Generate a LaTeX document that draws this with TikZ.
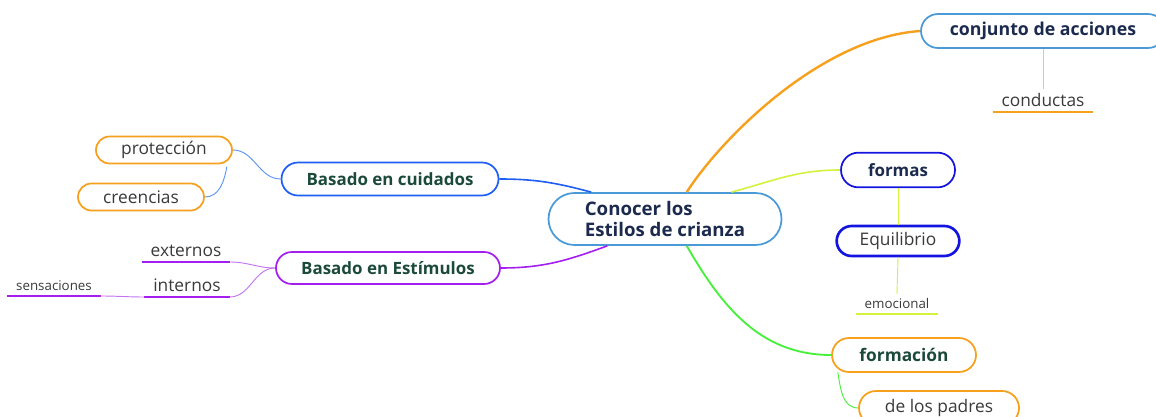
\documentclass[tikz,border=0pt]{standalone}
\usepackage{fontspec}
\setmainfont{Open Sans}
\usetikzlibrary{shapes.misc}

\definecolor{skyline}{HTML}{4A9AD8}
\definecolor{deepblue}{HTML}{1414E0}
\definecolor{careblue}{HTML}{1E5EF5}
\definecolor{careline}{HTML}{5A96F2}
\definecolor{stimpurple}{HTML}{A41EF0}
\definecolor{stimline}{HTML}{C274F2}
\definecolor{mmorange}{HTML}{F7A01E}
\definecolor{lineorange}{HTML}{F9C27A}
\definecolor{lime}{HTML}{D2F23C}
\definecolor{mmgreen}{HTML}{48F03C}
\definecolor{navytext}{HTML}{1B2A4E}
\definecolor{greentext}{HTML}{1B4A3A}
\definecolor{graytext}{HTML}{3A3A3A}

\begin{document}
\begin{tikzpicture}[x=0.75pt, y=-0.75pt,
	topic/.style={rounded rectangle, draw, line width=1.3pt, fill=white, inner sep=0pt, font=\bfseries\fontsize{12.7}{15}\selectfont},
	sub/.style={rounded rectangle, draw, line width=1.3pt, fill=white, inner sep=0pt, text=graytext, font=\fontsize{13}{15}\selectfont},
	leaf/.style={anchor=south, inner xsep=6.5pt, inner ysep=3.5pt, text=graytext, font=\fontsize{13}{15}\selectfont},
	small/.style={leaf, font=\fontsize{10}{12}\selectfont},
	uline/.style={line width=1.9pt},
	link/.style={line width=0.7pt}]
	\useasboundingbox (0,0) rectangle (1156,417);

	% central topic
	\node[topic, draw=skyline, text=navytext, align=left, font=\bfseries\fontsize{14}{15.5}\selectfont, minimum width=174.75pt, minimum height=39pt] (center) at (665,219) {Conocer los\\Estilos de crianza};

	% right side
	\node[topic, draw=skyline, text=navytext, font=\bfseries\fontsize{13.3}{15}\selectfont, minimum width=183pt, minimum height=25.5pt] (conjunto) at (1043,31) {conjunto de acciones};
	\node[leaf] (conductas) at (1043,112) {conductas};
	\node[topic, draw=deepblue, text=navytext, minimum width=85.5pt, minimum height=26pt] (formas) at (898,170) {formas};
	\node[sub, draw=deepblue, line width=2pt, minimum width=92pt, minimum height=22.5pt] (equilibrio) at (898,241) {Equilibrio};
	\node[small] (emocional) at (897,314) {emocional};
	\node[topic, draw=mmorange, text=greentext, font=\bfseries\fontsize{13}{15}\selectfont, minimum width=108pt, minimum height=25.5pt] (formacion) at (904,355) {formación};
	\node[sub, draw=mmorange, minimum width=120pt, minimum height=25.5pt] (padres) at (939,408) {de los padres};

	% left side
	\node[topic, draw=careblue, text=greentext, minimum width=162.75pt, minimum height=24.75pt] (cuidados) at (390,179) {Basado en cuidados};
	\node[sub, draw=mmorange, minimum width=102pt, minimum height=20.25pt] (proteccion) at (164,150) {protección};
	\node[sub, draw=mmorange, minimum width=94.5pt, minimum height=20.25pt] (creencias) at (141,197) {creencias};
	\coordinate (protcorner) at ([xshift=-4.5pt,yshift=-12.5pt]proteccion.east);
	\node[topic, draw=stimpurple, text=greentext, minimum width=168pt, minimum height=24pt] (estimulos) at (388,268) {Basado en Estímulos};
	\node[leaf] (externos) at (186,262) {externos};
	\node[leaf] (internos) at (187,297) {internos};
	\node[small] (sensaciones) at (54,296) {sensaciones};

	% underlines
	\draw[uline, mmorange] (conductas.south west) -- (conductas.south east);
	\draw[uline, lime] (emocional.south west) -- (emocional.south east);
	\draw[uline, stimpurple] (externos.south west) -- (externos.south east);
	\draw[uline, stimpurple] (internos.south west) -- (internos.south east);
	\draw[uline, stimpurple] (sensaciones.south west) -- (sensaciones.south east);

	% main branches
	\draw[mmorange, line width=1.8pt] (center.51) .. controls (720,140) and (820,38) .. (conjunto.west);
	\draw[lime, line width=1.2pt] (center.22) to[out=15, in=180] (formas.west);
	\draw[mmgreen, line width=1.4pt] (center.-51) to[out=-60, in=180] (formacion.west);
	\draw[careblue, line width=1.2pt] (center.160) to[out=165, in=0] (cuidados.east);
	\draw[stimpurple, line width=1.2pt] (center.205) to[out=200, in=0] (estimulos.east);

	% sub branches
	\draw[link, lineorange] (conjunto.south) -- (conductas.north);
	\draw[link, lime] (formas.south) -- (equilibrio.north);
	\draw[link, lime] (equilibrio.south) -- (emocional.north);
	\draw[link, mmgreen] ([xshift=5pt,yshift=-13pt]formacion.west) to[out=-80, in=180] (padres.west);
	\draw[link, careline] (cuidados.west) to[out=180, in=0] (proteccion.east);
	\draw[link, careline] (creencias.east) to[out=0, in=-100] (protcorner);
	\draw[link, stimline] (estimulos.west) to[out=180, in=0] (externos.south east);
	\draw[link, stimline] (estimulos.west) to[out=180, in=0] (internos.south east);
	\draw[link, stimline] (internos.south west) to[out=180, in=0] (sensaciones.south east);
\end{tikzpicture}
\end{document}
